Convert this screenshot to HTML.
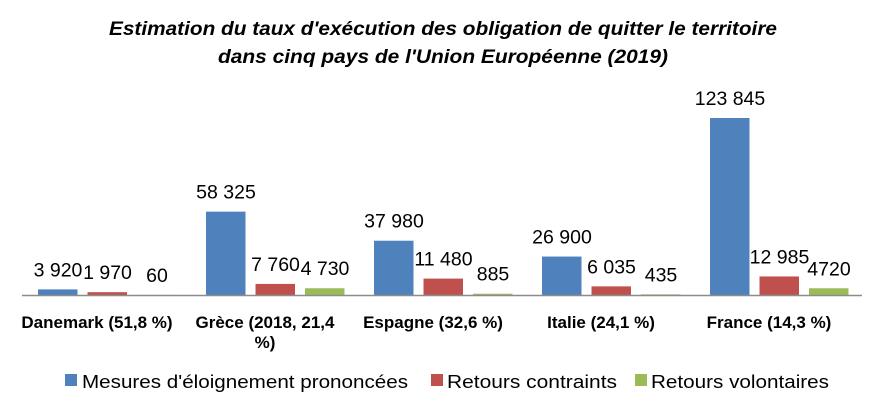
<!DOCTYPE html>
<html><head><meta charset="utf-8"><style>
html,body{margin:0;padding:0;background:#fff;}
svg{display:block;font-family:"Liberation Sans",Arial,sans-serif;}
</style></head><body>
<svg id="chart" width="886" height="411" viewBox="0 0 886 411">
<g font-weight="bold" font-style="italic" font-size="19" text-anchor="middle" fill="#000">
<text x="443" y="35" textLength="668" lengthAdjust="spacingAndGlyphs">Estimation du taux d'exécution des obligation de quitter le territoire</text>
<text x="443" y="63" textLength="450" lengthAdjust="spacingAndGlyphs">dans cinq pays de l'Union Européenne (2019)</text>
</g>
<g id="bars"></g>
<line x1="22" y1="295.5" x2="862" y2="295.5" stroke="#8c8c8c" stroke-width="1.5"/>
<g font-size="18" fill="#000">
<rect x="65" y="374" width="12" height="12" fill="#4f81bd"/>
<text x="82" y="388" textLength="326" lengthAdjust="spacingAndGlyphs">Mesures d'éloignement prononcées</text>
<rect x="431" y="374" width="12" height="12" fill="#c0504d"/>
<text x="447" y="388" textLength="170" lengthAdjust="spacingAndGlyphs">Retours contraints</text>
<rect x="635" y="374" width="12" height="12" fill="#9bbb59"/>
<text x="651" y="388" textLength="178" lengthAdjust="spacingAndGlyphs">Retours volontaires</text>
</g>
</svg>
<script>
const categories = [["Danemark (51,8 %)"],["Grèce (2018, 21,4","%)"],["Espagne (32,6 %)"],["Italie (24,1 %)"],["France (14,3 %)"]];
const mesures = [3920, 58325, 37980, 26900, 123845];
const contraints = [1970, 7760, 11480, 6035, 12985];
const volontaires = [60, 4730, 885, 435, 4720];
const labelsMesures = ["3 920","58 325","37 980","26 900","123 845"];
const labelsContraints = ["1 970","7 760","11 480","6 035","12 985"];
const labelsVolontaires = ["60","4 730","885","435","4720"];

const NS="http://www.w3.org/2000/svg";
const g=document.getElementById('bars');
const base=295, scale=177/123845;
const y=v=>base-v*scale;
const xGroup=i=>38+i*168;
const series=[[mesures,labelsMesures,"#4f81bd","mesures"],[contraints,labelsContraints,"#c0504d","contraints"],[volontaires,labelsVolontaires,"#9bbb59","volontaires"]];
series.forEach((s,si)=>{
  s[0].forEach((v,i)=>{
    const x=xGroup(i)+si*49.5;
    const r=document.createElementNS(NS,'rect');
    
    
    r.setAttribute('x',x);r.setAttribute('y',y(v));
    r.setAttribute('width',39.5);r.setAttribute('height',base-y(v));
    r.setAttribute('fill',s[2]);g.appendChild(r);
    const t=document.createElementNS(NS,'text');
    
    
    t.setAttribute('x',x+20);t.setAttribute('y',y(v)-13);
    t.setAttribute('text-anchor','middle');t.setAttribute('font-size','19.5');
    t.textContent=s[1][i];g.appendChild(t);
  });
});
categories.forEach((c,i)=>{
  c.forEach((line,li)=>{
    const t=document.createElementNS(NS,'text');
    
    
    t.setAttribute('x',xGroup(i)+59);t.setAttribute('y',328+li*20);
    t.setAttribute('text-anchor','middle');t.setAttribute('font-size','17');
    t.setAttribute('font-weight','bold');
    t.textContent=line;g.appendChild(t);
  });
});
</script>
</body></html>
